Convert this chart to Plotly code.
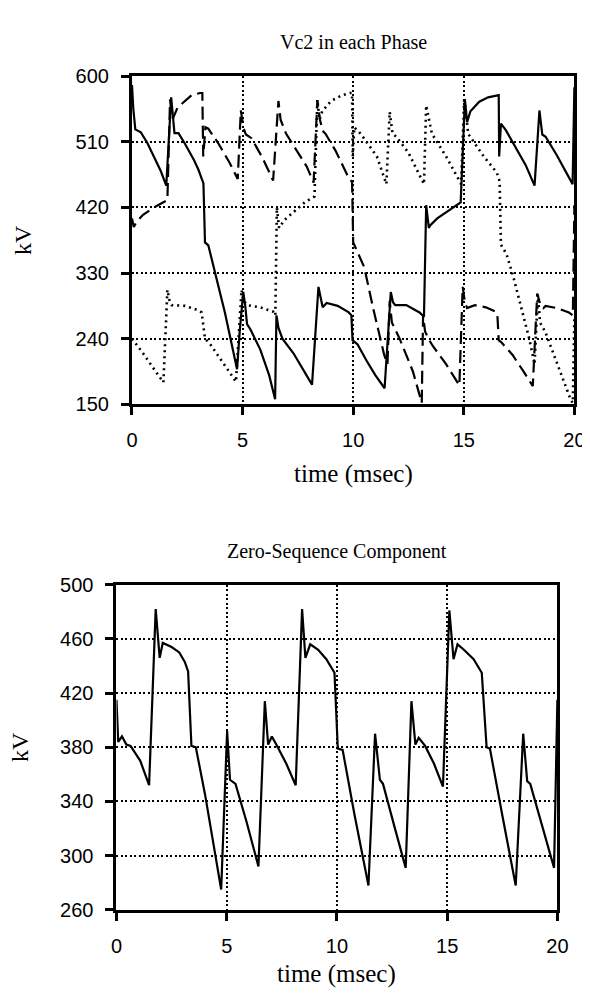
import plotly.graph_objects as go

# ---------------- data (time in ms, value in kV) ----------------
phase_a = [(0.0, 588), (0.06, 555), (0.15, 527), (0.4, 523), (0.7, 508), (1.0, 490), (1.3, 470),
           (1.55, 450), (1.77, 571), (1.85, 545), (1.92, 522), (2.1, 522), (2.4, 507), (2.8, 485),
           (3.0, 472), (3.23, 453), (3.3, 372), (3.45, 368), (3.75, 330), (4.2, 276), (4.75, 198),
           (4.87, 250), (5.03, 304), (5.12, 285), (5.2, 260), (5.35, 253), (5.8, 225), (6.2, 190),
           (6.47, 157), (6.53, 272), (6.62, 255), (6.8, 240), (7.3, 220), (7.8, 195), (8.14, 177),
           (8.43, 311), (8.52, 295), (8.62, 283), (8.8, 289), (9.3, 285), (9.8, 276), (9.92, 272),
           (9.97, 238), (10.2, 232), (10.6, 210), (11.0, 190), (11.42, 172), (11.7, 304), (11.8, 290),
           (11.9, 286), (12.4, 286), (13.0, 276), (13.2, 270), (13.3, 423), (13.42, 392), (13.5, 396),
           (13.8, 405), (14.3, 415), (14.86, 427), (15.05, 568), (15.15, 537), (15.3, 552), (15.7, 565),
           (16.1, 571), (16.5, 574), (16.58, 574), (16.6, 490), (16.68, 535), (16.9, 526), (17.3, 505),
           (17.8, 478), (18.2, 450), (18.42, 553), (18.55, 520), (18.7, 517), (19.2, 492), (19.6, 470),
           (19.92, 452), (20.0, 585)]

phase_b = [(0.0, 405), (0.08, 393), (0.2, 400), (0.5, 410), (1.0, 420), (1.5, 428), (1.6, 430),
           (1.72, 568), (1.85, 542), (2.06, 557), (2.3, 563), (2.7, 574), (3.08, 577), (3.18, 577),
           (3.22, 490), (3.32, 530), (3.45, 528), (3.9, 508), (4.4, 482), (4.78, 459), (4.92, 553),
           (5.05, 528), (5.15, 520), (5.4, 515), (5.9, 488), (6.38, 457), (6.62, 566), (6.72, 540),
           (6.97, 521), (7.4, 500), (7.9, 476), (8.21, 454), (8.38, 566), (8.5, 540), (8.62, 525),
           (8.75, 521), (9.2, 498), (9.82, 459), (9.95, 455), (10.0, 372), (10.1, 365), (10.5, 338),
           (10.9, 282), (11.4, 218), (11.55, 205), (11.65, 292), (11.75, 262), (11.85, 255), (12.1, 240),
           (12.7, 195), (13.1, 152), (13.16, 272), (13.25, 250), (13.4, 240), (13.6, 230), (14.2, 205),
           (14.8, 176), (14.95, 311), (15.05, 290), (15.15, 282), (15.5, 286), (16.0, 283), (16.45, 277),
           (16.52, 272), (16.58, 238), (16.7, 235), (17.2, 218), (17.7, 195), (18.12, 175), (18.32, 302),
           (18.45, 288), (18.6, 282), (18.7, 285), (19.2, 282), (19.75, 276), (19.93, 272), (20.0, 423)]

phase_c = [(0.0, 240), (0.5, 220), (1.0, 198), (1.42, 180), (1.6, 307), (1.7, 292), (1.8, 286),
           (2.4, 285), (3.0, 279), (3.15, 276), (3.3, 240), (3.5, 234), (4.0, 212), (4.7, 181),
           (4.95, 307), (5.05, 292), (5.2, 286), (5.8, 283), (6.38, 277), (6.48, 272), (6.55, 420),
           (6.65, 392), (6.9, 403), (7.3, 413), (7.85, 428), (8.25, 435), (8.38, 568), (8.48, 540),
           (8.6, 552), (9.0, 566), (9.5, 574), (9.85, 577), (9.95, 577), (9.98, 490), (10.05, 530),
           (10.34, 521), (10.63, 508), (11.07, 490), (11.5, 452), (11.65, 551), (11.78, 521), (11.95, 517),
           (12.5, 495), (13.2, 452), (13.3, 560), (13.45, 535), (13.56, 521), (14.2, 490), (14.88, 452),
           (15.02, 571), (15.12, 540), (15.2, 521), (15.9, 490), (16.49, 468), (16.62, 456), (16.68, 369),
           (16.93, 356), (17.22, 327), (17.96, 240), (18.2, 205), (18.35, 300), (18.45, 262), (18.69, 249),
           (19.3, 200), (19.85, 155), (19.93, 152), (20.0, 272)]

zero_seq = [(0.0, 415), (0.08, 384), (0.25, 388), (0.45, 382), (0.64, 381), (1.08, 370), (1.48, 352),
            (1.78, 482), (1.96, 446), (2.1, 457), (2.5, 454), (2.85, 450), (3.1, 443), (3.25, 436),
            (3.4, 381), (3.6, 380), (4.02, 345), (4.4, 310), (4.75, 275), (5.02, 392), (5.15, 356),
            (5.4, 353), (5.9, 325), (6.44, 292), (6.73, 414), (6.88, 382), (7.05, 388), (7.25, 382),
            (7.7, 368), (8.13, 352), (8.42, 482), (8.57, 446), (8.79, 456), (9.15, 452), (9.52, 445),
            (9.89, 435), (10.04, 379), (10.26, 378), (10.8, 330), (11.43, 278), (11.73, 390), (11.95, 356),
            (12.09, 353), (12.6, 322), (13.12, 291), (13.38, 414), (13.56, 382), (13.71, 387), (14.0, 381),
            (14.4, 368), (14.81, 351), (15.1, 481), (15.29, 445), (15.47, 456), (15.76, 452), (16.2, 445),
            (16.57, 435), (16.79, 380), (16.94, 379), (17.5, 330), (18.11, 278), (18.45, 390), (18.63, 355),
            (18.77, 353), (19.3, 323), (19.85, 291), (20.0, 415)]

x_ticks = [0, 5, 10, 15, 20]
top_y_ticks = [150, 240, 330, 420, 510, 600]
bottom_y_ticks = [260, 300, 340, 380, 420, 460, 500]

top_title = "Vc2 in each Phase"
bottom_title = "Zero-Sequence Component"
x_title = "time (msec)"
y_title = "kV"

# ---------------- figure ----------------
W, H = 590, 994
SANS = "Liberation Sans, Arial, Helvetica, sans-serif"
SERIF = "Liberation Serif, Times New Roman, serif"

fig = go.Figure()

def add(series, xa, ya, dash, width=2.2):
    fig.add_trace(go.Scatter(x=[p[0] for p in series], y=[p[1] for p in series],
                             mode="lines", xaxis=xa, yaxis=ya,
                             line=dict(color="black", width=width, dash=dash),
                             showlegend=False, hoverinfo="skip"))

add(phase_a, "x", "y", "solid")
add(phase_b, "x", "y", "13px,6px")
add(phase_c, "x", "y", "2px,4px", width=2.6)
add(zero_seq, "x2", "y2", "solid")

# pixel geometry of the two plot frames
top_l, top_r, top_t, top_b = 121.5, 577, 58.5, 394
bot_l, bot_r, bot_t, bot_b = 105.5, 559.5, 578.5, 911

def px_x(p):
    return p / W

def px_y(p):
    return 1 - p / H

axis_common = dict(showline=True, linecolor="black", linewidth=3, mirror=True,
                   ticks="outside", ticklen=8, tickwidth=3, tickcolor="black",
                   showgrid=True, gridcolor="black", gridwidth=1.8, griddash="2px,2.5px",
                   zeroline=False, tickfont=dict(family=SANS, size=20, color="black"))

fig.update_layout(
    width=W, height=H, margin=dict(l=0, r=0, t=0, b=0),
    paper_bgcolor="white", plot_bgcolor="white",
    xaxis=dict(domain=[px_x(top_l), px_x(top_r)], range=[0, 20], tickvals=x_ticks,
               anchor="y", ticklabelstandoff=8, **axis_common),
    yaxis=dict(domain=[px_y(top_b), px_y(top_t)], range=[150, 600], tickvals=top_y_ticks,
               anchor="x", ticklabelstandoff=8, **axis_common),
    xaxis2=dict(domain=[px_x(bot_l), px_x(bot_r)], range=[0, 20], tickvals=x_ticks,
                anchor="y2", ticklabelstandoff=8, **axis_common),
    yaxis2=dict(domain=[px_y(bot_b), px_y(bot_t)], range=[260, 500], tickvals=bottom_y_ticks,
                anchor="x2", ticklabelstandoff=8, **axis_common),
)

def note(text, xp, yp, size, angle=0):
    fig.add_annotation(text=text, x=px_x(xp), y=px_y(yp), xref="paper", yref="paper",
                       showarrow=False, xanchor="center", yanchor="middle", textangle=angle,
                       font=dict(family=SERIF, size=size, color="black"))

note(top_title, (top_l + top_r) / 2, 24, 20)
note(bottom_title, (bot_l + bot_r) / 2, 545, 20)
note(x_title, (top_l + top_r) / 2, 465, 25)
note(x_title, (bot_l + bot_r) / 2, 977, 25)
note(y_title, 10, (top_t + top_b) / 2, 24, angle=-90)
note(y_title, 6, (bot_t + bot_b) / 2, 24, angle=-90)

fig.write_html("out.html")
